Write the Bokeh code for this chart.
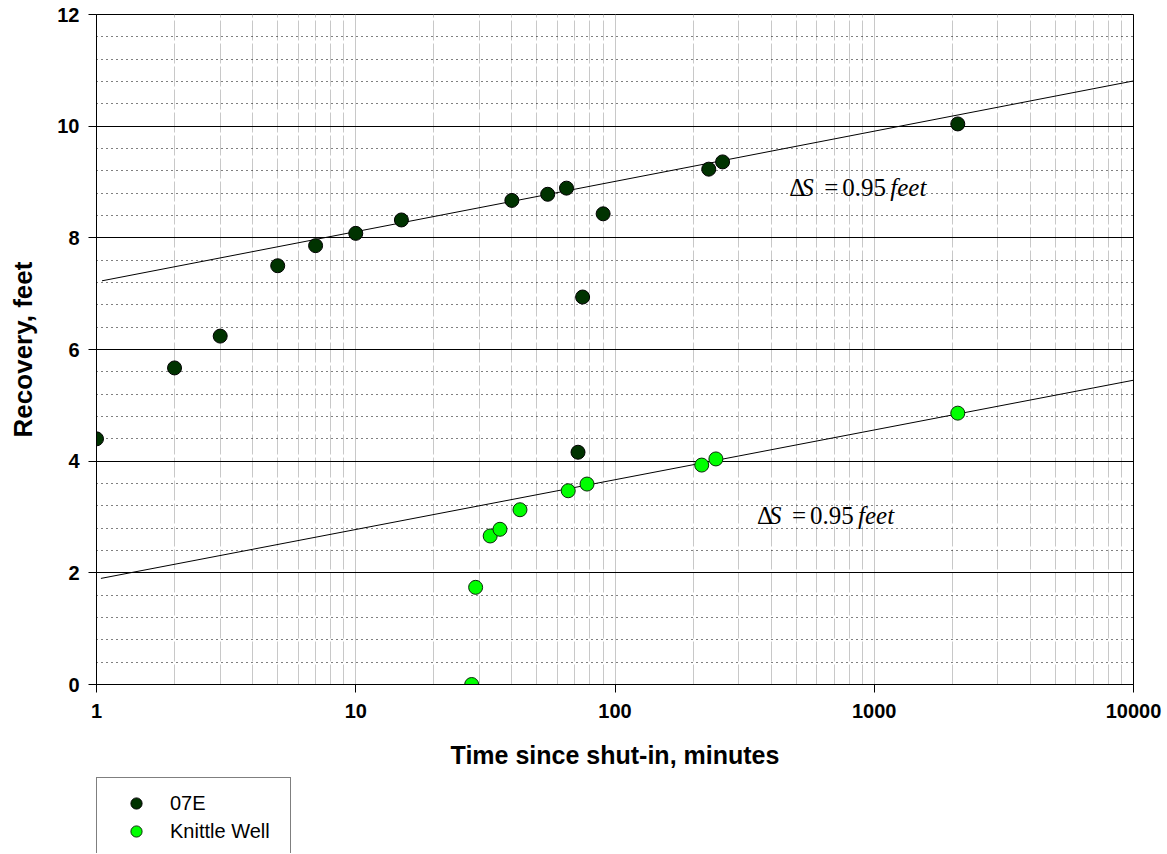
from bokeh.plotting import figure
from bokeh.layouts import column
from bokeh.models import (FixedTicker, SingleIntervalTicker, NumeralTickFormatter,
                          Range1d, Legend, LegendItem, Label, ColumnDataSource)
from bokeh.embed import file_html
from bokeh.resources import INLINE

# ---- data ----
e07_time = [1, 2, 3, 5, 7, 10, 15, 40, 55, 65, 90, 75, 72, 230, 260, 2100]
e07_recovery = [4.40, 5.67, 6.24, 7.50, 7.86, 8.08, 8.32, 8.67, 8.78, 8.89,
                8.43, 6.94, 4.16, 9.23, 9.36, 10.04]

knittle_time = [28, 29, 33, 36, 43, 66, 78, 216, 245, 2100]
knittle_recovery = [0.0, 1.74, 2.66, 2.78, 3.13, 3.47, 3.59, 3.93, 4.04, 4.86]

fit_e07_time = [1.05, 10000]
fit_e07_recovery = [7.23, 10.81]
fit_knittle_time = [1.04, 10000]
fit_knittle_recovery = [1.90, 5.45]

series_names = ["07E", "Knittle Well"]
series_colors = ["#003300", "#00ff00"]
series_edges = ["black", "#0a2a0a"]

x_major_ticks = [1, 10, 100, 1000, 10000]
x_minor_ticks = [k * 10 ** d for d in range(4) for k in range(2, 10)]

annotation_pieces = ["\u0394", "S", "=", "0.95", "feet"]
annotation_styles = ["normal", "italic", "normal", "normal", "italic"]
annotation_offsets = [0, 12, 35, 53, 101]
annotation_anchors = [(470, 8.91), (353, 3.03)]

src1 = ColumnDataSource(dict(x=e07_time, y=e07_recovery))
src2 = ColumnDataSource(dict(x=knittle_time, y=knittle_recovery))

# ---- main figure ----
p = figure(x_axis_type="log", x_range=Range1d(1, 10000), y_range=Range1d(0, 12),
           frame_width=1037, frame_height=670,
           min_border_left=96, min_border_right=32, min_border_top=14, min_border_bottom=93,
           output_backend="svg", toolbar_location=None,
           background_fill_color="white", border_fill_color="white")
p.outline_line_color = "black"
p.outline_line_width = 1

font = "Liberation Sans"
p.xaxis.ticker = FixedTicker(ticks=x_major_ticks, minor_ticks=x_minor_ticks)
p.xaxis.formatter = NumeralTickFormatter(format="0")
yt = SingleIntervalTicker(interval=2, num_minor_ticks=5)
p.yaxis.ticker = yt
for ax in (p.xaxis[0], p.yaxis[0]):
    ax.axis_line_color = "black"
    ax.major_tick_line_color = "black"
    ax.major_tick_out = 8
    ax.major_tick_in = 0
    ax.minor_tick_line_color = None
    ax.major_label_text_font = font
    ax.major_label_text_font_style = "bold"
    ax.major_label_text_font_size = "20px"
    ax.major_label_text_color = "black"
    ax.axis_label_text_font = font
    ax.axis_label_text_font_style = "bold"
    ax.axis_label_text_color = "black"
p.xaxis.axis_label = "Time since shut-in, minutes"
p.xaxis.axis_label_text_font_size = "25px"
p.xaxis.major_label_standoff = 11
p.xaxis.axis_label_standoff = 20
p.yaxis.axis_label = "Recovery, feet"
p.yaxis.axis_label_text_font_size = "26px"
p.yaxis.major_label_standoff = 9
p.yaxis.axis_label_standoff = 16

p.xgrid.grid_line_color = "#c8c8c8"
p.xgrid.grid_line_width = 1
p.xgrid.minor_grid_line_color = "#c8c8c8"
p.xgrid.minor_grid_line_dash = "20 3"
p.ygrid.ticker = yt
p.ygrid.grid_line_color = "black"
p.ygrid.grid_line_width = 1
p.ygrid.minor_grid_line_color = "black"
p.ygrid.minor_grid_line_dash = "1 4"

p.line(fit_e07_time, fit_e07_recovery, line_color="black", line_width=1)
p.line(fit_knittle_time, fit_knittle_recovery, line_color="black", line_width=1)

p.scatter("x", "y", source=src1, size=14, marker="circle",
          fill_color=series_colors[0], line_color=series_edges[0], line_width=1)
p.scatter("x", "y", source=src2, size=14, marker="circle",
          fill_color=series_colors[1], line_color=series_edges[1], line_width=1)

for ax_, ay_ in annotation_anchors:
    for txt, sty, off in zip(annotation_pieces, annotation_styles, annotation_offsets):
        p.add_layout(Label(x=ax_, y=ay_, x_offset=off, text=txt,
                           text_font="Liberation Serif", text_font_style=sty,
                           text_font_size="25px", text_baseline="alphabetic",
                           text_align="left", text_color="black"))

# ---- legend strip (below the chart); its renderers use the same data,
# but the strip's ranges keep the points themselves out of view ----
q = figure(width=1165, height=76, x_range=Range1d(-10, -5), y_range=Range1d(-10, -5),
           min_border_left=96, min_border_right=0, min_border_top=0, min_border_bottom=0,
           x_axis_location=None, y_axis_location=None,
           output_backend="svg", toolbar_location=None,
           background_fill_color="white", border_fill_color="white")
q.outline_line_color = None
q.xgrid.visible = False
q.ygrid.visible = False
lr1 = q.scatter("x", "y", source=src1, size=14, marker="circle",
                fill_color=series_colors[0], line_color=series_edges[0], line_width=1)
lr2 = q.scatter("x", "y", source=src2, size=14, marker="circle",
                fill_color=series_colors[1], line_color=series_edges[1], line_width=1)
legend = Legend(items=[LegendItem(label=series_names[0], renderers=[lr1]),
                       LegendItem(label=series_names[1], renderers=[lr2])],
                location="top_left", orientation="vertical",
                padding=11, margin=0, spacing=0,
                glyph_width=56, glyph_height=28, label_height=28,
                label_standoff=6, label_width=109,
                border_line_color="black", border_line_width=1,
                background_fill_color="white", background_fill_alpha=1,
                label_text_font=font, label_text_font_size="20px",
                label_text_color="black")
q.add_layout(legend, "center")

open("out.html", "w").write(file_html(column(p, q, spacing=0), INLINE))
